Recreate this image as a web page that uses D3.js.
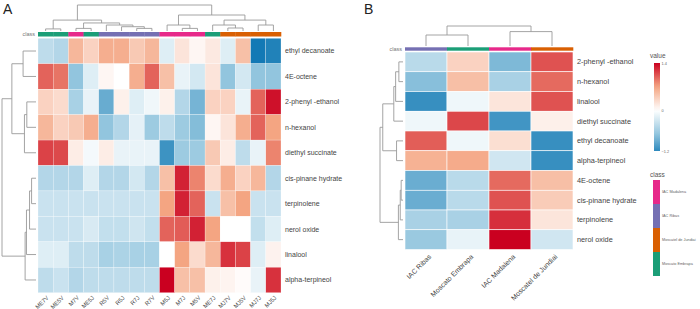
<!DOCTYPE html>
<html>
<head>
<meta charset="utf-8">
<script src="https://cdn.jsdelivr.net/npm/d3@7"></script>
<style>
  body { margin: 0; background: #fff; }
  svg { display: block; font-family: "Liberation Sans", Arial, sans-serif; }
</style>
</head>
<body>
<svg id="chart" width="700" height="309"></svg>
<script>
// ---- data: panel A (samples) ----
const colsA = ["ME7V", "ME5V", "M7V", "ME5J", "R5V", "R5J", "R7J", "R7V",
  "M5J", "M7J", "M5V", "ME7J", "MJ7V", "MJ5V", "MJ7J", "MJ5J"];
const colClassA = ["Moscato Embrapa", "Moscato Embrapa", "IAC Madalena", "Moscato Embrapa",
  "IAC Ribas", "IAC Ribas", "IAC Ribas", "IAC Ribas",
  "IAC Madalena", "IAC Madalena", "IAC Madalena", "Moscato Embrapa",
  "Moscatel de Jundiai", "Moscatel de Jundiai", "Moscatel de Jundiai", "Moscatel de Jundiai"];
const rowsA = ["ethyl decanoate", "4E-octene", "2-phenyl -ethanol", "n-hexanol", "diethyl succinate",
  "cis-pinane hydrate", "terpinolene", "nerol oxide", "linalool", "alpha-terpineol"];
const valuesA = [
  [-0.3, -0.35, 0.4, 0.25, 0.45, 0.45, 0.3, 0.4, -0.15, 0.15, 0.05, 0.12, -0.15, 0.35, -0.95, -0.9],
  [0.7, 0.65, -0.5, -0.15, 0.05, 0.0, 0.45, 0.7, 0.35, -0.1, -0.2, 0.15, -0.5, -0.2, -0.5, -0.5],
  [0.25, 0.2, -0.4, -0.1, -0.65, 0.08, -0.15, -0.07, 0.08, -0.35, -0.6, 0.25, 0.25, -0.1, 0.7, 0.95],
  [0.4, 0.25, 0.3, 0.45, -0.5, -0.35, -0.12, -0.45, -0.3, -0.45, -0.55, 0.05, 0.15, 0.45, 0.7, 0.5],
  [0.8, 0.78, 0.1, -0.05, 0.1, -0.1, -0.1, -0.1, -0.8, -0.45, -0.45, 0.3, 0.1, -0.3, -0.1, 0.6],
  [-0.35, -0.35, -0.35, -0.15, -0.35, -0.35, -0.2, -0.35, 0.35, 0.9, 0.6, 0.2, 0.45, 0.25, 0.4, -0.35],
  [-0.25, -0.25, -0.25, -0.25, -0.25, -0.25, -0.25, -0.25, 0.5, 0.9, 0.7, -0.25, 0.35, 0.5, -0.25, -0.25],
  [-0.25, -0.25, -0.25, -0.18, -0.28, -0.28, -0.22, -0.28, 0.7, 0.72, 0.9, 0.5, 0.0, 0.0, -0.28, -0.15],
  [-0.15, -0.15, -0.3, -0.3, -0.4, -0.38, -0.4, -0.4, 0.0, 0.5, 0.2, 0.4, 0.85, 0.8, -0.15, 0.07],
  [-0.3, -0.25, -0.35, -0.3, -0.3, -0.3, -0.3, -0.3, 1.0, 0.35, 0.35, 0.08, 0.06, 0.02, -0.1, 0.85]
];
// trees: [height, left, right], leaves are names
const colTreeA = [1.0,
  [0.42, [0.08, "ME7V", "ME5V"],
    [0.31, [0.1, "M7V", "ME5J"], [0.23, "R5V", [0.165, "R5J", [0.1, "R7J", "R7V"]]]]],
  [0.615, [0.23, "M5J", [0.1, "M7J", "M5V"]],
    [0.42, [0.23, "ME7J", [0.115, "MJ7V", "MJ5V"]], [0.23, "MJ7J", "MJ5J"]]]];
const rowTreeA = [10,
  [7.1, [3.8, "ethyl decanoate", "4E-octene"],
    [3.4, [2.7, "2-phenyl -ethanol", "n-hexanol"], "diethyl succinate"]],
  [3.2, [2.8, [1.9, [1.3, "cis-pinane hydrate", "terpinolene"], "nerol oxide"], "linalool"], "alpha-terpineol"]];

// ---- data: panel B (cultivar means) ----
const colsB = ["IAC Ribas", "Moscato Embrapa", "IAC Madalena", "Moscatel de Jundiai"];
const rowsB = ["2-phenyl -ethanol", "n-hexanol", "linalool", "diethyl succinate", "ethyl decanoate",
  "alpha-terpineol", "4E-octene", "cis-pinane hydrate", "terpinolene", "nerol oxide"];
const valuesB = [
  [-0.45, 0.35, -0.8, 1.05],
  [-0.75, 0.5, -0.55, 0.95],
  [-1.15, -0.1, 0.2, 1.05],
  [-0.1, 1.1, -1.1, 0.12],
  [1.0, -0.1, 0.25, -1.15],
  [0.6, 0.65, -0.3, -1.15],
  [-0.9, -0.45, 0.95, 0.5],
  [-0.9, -0.45, 1.05, 0.4],
  [-0.55, -0.55, 1.2, 0.2],
  [-0.65, -0.15, 1.4, -0.3]
];
const colTreeB = [1.0, [0.55, "IAC Ribas", "Moscato Embrapa"], [0.72, "IAC Madalena", "Moscatel de Jundiai"]];
const rowTreeB = [25,
  [22, [10, [8, [4.5, "2-phenyl -ethanol", "n-hexanol"], "linalool"], "diethyl succinate"],
    [7, "ethyl decanoate", "alpha-terpineol"]],
  [5, [3, [2, "4E-octene", "cis-pinane hydrate"], "terpinolene"], "nerol oxide"]];

const classNames = ["IAC Madalena", "IAC Ribas", "Moscatel de Jundiai", "Moscato Embrapa"];
const classColors = ["#e7298a", "#7570b3", "#d95f02", "#1b9e77"];
const valueTicks = [1.4, 0, -1.2];

// ---- drawing ----
const svg = d3.select("#chart");
const ramp = d3.piecewise(d3.interpolateRgb, ["#0571b0", "#92c5de", "#ffffff", "#f4a582", "#ca0020"]);
const colorA = d3.scaleLinear().domain([-1, 1]).range([0, 1]).clamp(true);
const colorB = d3.scaleLinear().domain([-1.4, 1.4]).range([0, 1]).clamp(true);
const classColor = d3.scaleOrdinal().domain(classNames).range(classColors);
const textCol = "#444", lineCol = "#9a9a9a";

function treeSegs(tree, pos) {
  const segs = [];
  function walk(n) {
    if (typeof n === "string") return { h: 0, p: pos(n) };
    const a = walk(n[1]), b = walk(n[2]);
    segs.push({ h: n[0], a: a, b: b });
    return { h: n[0], p: (a.p + b.p) / 2 };
  }
  walk(tree);
  return segs;
}

function drawPanel(o) {
  const x = d3.scaleBand().domain(o.cols).range(o.xr);
  const y = d3.scaleBand().domain(o.rows).range(o.yr);
  const g = svg.append("g");

  // cells
  const cells = [];
  o.values.forEach((r, i) => r.forEach((v, j) => cells.push({ row: o.rows[i], col: o.cols[j], v: v })));
  g.selectAll("rect.cell").data(cells).enter().append("rect")
    .attr("x", d => x(d.col)).attr("y", d => y(d.row))
    .attr("width", x.bandwidth()).attr("height", y.bandwidth())
    .attr("fill", d => ramp(o.color(d.v)))
    .attr("stroke", "#fff").attr("stroke-width", o.gridW);

  // class bar
  g.selectAll("rect.cls").data(o.cols).enter().append("rect")
    .attr("x", d => x(d)).attr("y", o.clsY[0])
    .attr("width", x.bandwidth() + 0.3).attr("height", o.clsY[1] - o.clsY[0])
    .attr("fill", (d, i) => classColor(o.colClass[i]));
  g.append("text").attr("x", o.xr[0] - 3).attr("y", (o.clsY[0] + o.clsY[1]) / 2)
    .attr("dy", "0.35em").attr("text-anchor", "end")
    .attr("font-size", 5.5).attr("fill", "#777").text("class");

  // row labels
  g.selectAll("text.row").data(o.rows).enter().append("text")
    .attr("x", o.xr[1] + o.rowDx).attr("y", d => y(d) + y.bandwidth() / 2)
    .attr("dy", "0.35em").attr("font-size", o.rowFs).attr("fill", textCol).text(d => d);

  // column labels
  g.selectAll("text.col").data(o.cols).enter().append("text")
    .attr("transform", d => `translate(${x(d) + x.bandwidth() / 2 + o.colDx},${o.yr[1] + o.colDy}) rotate(-45)`)
    .attr("text-anchor", "end").attr("dy", "0.35em")
    .attr("font-size", o.colFs).attr("fill", textCol).text(d => d);

  // column dendrogram
  const hy = d3.scaleLinear().domain([0, 1]).range(o.colDend);
  const cs = treeSegs(o.colTree, n => x(n) + x.bandwidth() / 2);
  g.selectAll("path.cd").data(cs).enter().append("path")
    .attr("d", s => `M${s.a.p},${hy(s.a.h)}V${hy(s.h)}H${s.b.p}V${hy(s.b.h)}`)
    .attr("fill", "none").attr("stroke", lineCol).attr("stroke-width", 0.9);

  // row dendrogram
  const hx = d3.scaleLinear().domain([0, o.rowTree[0]]).range(o.rowDend);
  const rs = treeSegs(o.rowTree, n => y(n) + y.bandwidth() / 2);
  g.selectAll("path.rd").data(rs).enter().append("path")
    .attr("d", s => `M${hx(s.a.h)},${s.a.p}H${hx(s.h)}V${s.b.p}H${hx(s.b.h)}`)
    .attr("fill", "none").attr("stroke", lineCol).attr("stroke-width", 0.9);
}

drawPanel({
  cols: colsA, rows: rowsA, values: valuesA, colClass: colClassA, color: colorA,
  xr: [38, 281], yr: [38.3, 292.7], clsY: [32, 36.5], gridW: 0.25,
  rowDx: 4, rowFs: 7, colDx: 2, colDy: 4, colFs: 5.8,
  colTree: colTreeA, colDend: [31, 5], rowTree: rowTreeA, rowDend: [36, 2]
});

drawPanel({
  cols: colsB, rows: rowsB, values: valuesB, colClass: colsB, color: colorB,
  xr: [405, 573], yr: [52, 249.5], clsY: [47.3, 50.7], gridW: 0.6,
  rowDx: 4, rowFs: 7.3, colDx: 4, colDy: 6, colFs: 7,
  colTree: colTreeB, colDend: [46, 26], rowTree: rowTreeB, rowDend: [403, 380]
});

// panel letters
svg.append("text").attr("x", 3).attr("y", 14).attr("font-size", 14).attr("fill", "#222").text("A");
svg.append("text").attr("x", 364).attr("y", 14).attr("font-size", 14).attr("fill", "#222").text("B");

// value legend
const ly = d3.scaleLinear().domain([-1.2, 1.4]).range([151, 63]);
const grad = svg.append("defs").append("linearGradient").attr("id", "vgrad")
  .attr("x1", 0).attr("y1", 1).attr("x2", 0).attr("y2", 0);
d3.range(0, 1.0001, 0.05).forEach(t => {
  const v = -1.2 + t * 2.6;
  grad.append("stop").attr("offset", t).attr("stop-color", ramp(colorB(v)));
});
svg.append("text").attr("x", 650).attr("y", 58).attr("font-size", 6.5).attr("fill", "#555").text("value");
svg.append("rect").attr("x", 654).attr("y", ly(1.4)).attr("width", 6).attr("height", ly(-1.2) - ly(1.4))
  .attr("fill", "url(#vgrad)");
const vax = svg.append("g").attr("transform", "translate(660,0)")
  .call(d3.axisRight(ly).tickValues(valueTicks).tickSize(0).tickPadding(1.5).tickFormat(d3.format("")));
vax.select(".domain").remove();
vax.selectAll("text").attr("font-size", 3.8).attr("fill", "#666").attr("font-family", "inherit");

// class legend
const lc = d3.scaleBand().domain(classNames).range([180, 276]);
svg.append("text").attr("x", 650).attr("y", 177).attr("font-size", 6.5).attr("fill", "#555").text("class");
svg.selectAll("rect.lg").data(classNames).enter().append("rect")
  .attr("x", 653).attr("y", d => lc(d)).attr("width", 7).attr("height", lc.bandwidth())
  .attr("fill", d => classColor(d));
svg.selectAll("text.lg").data(classNames).enter().append("text")
  .attr("x", 662).attr("y", d => lc(d) + lc.bandwidth() / 2).attr("dy", "0.35em")
  .attr("font-size", 3.8).attr("fill", "#666").text(d => d);
</script>
</body>
</html>
